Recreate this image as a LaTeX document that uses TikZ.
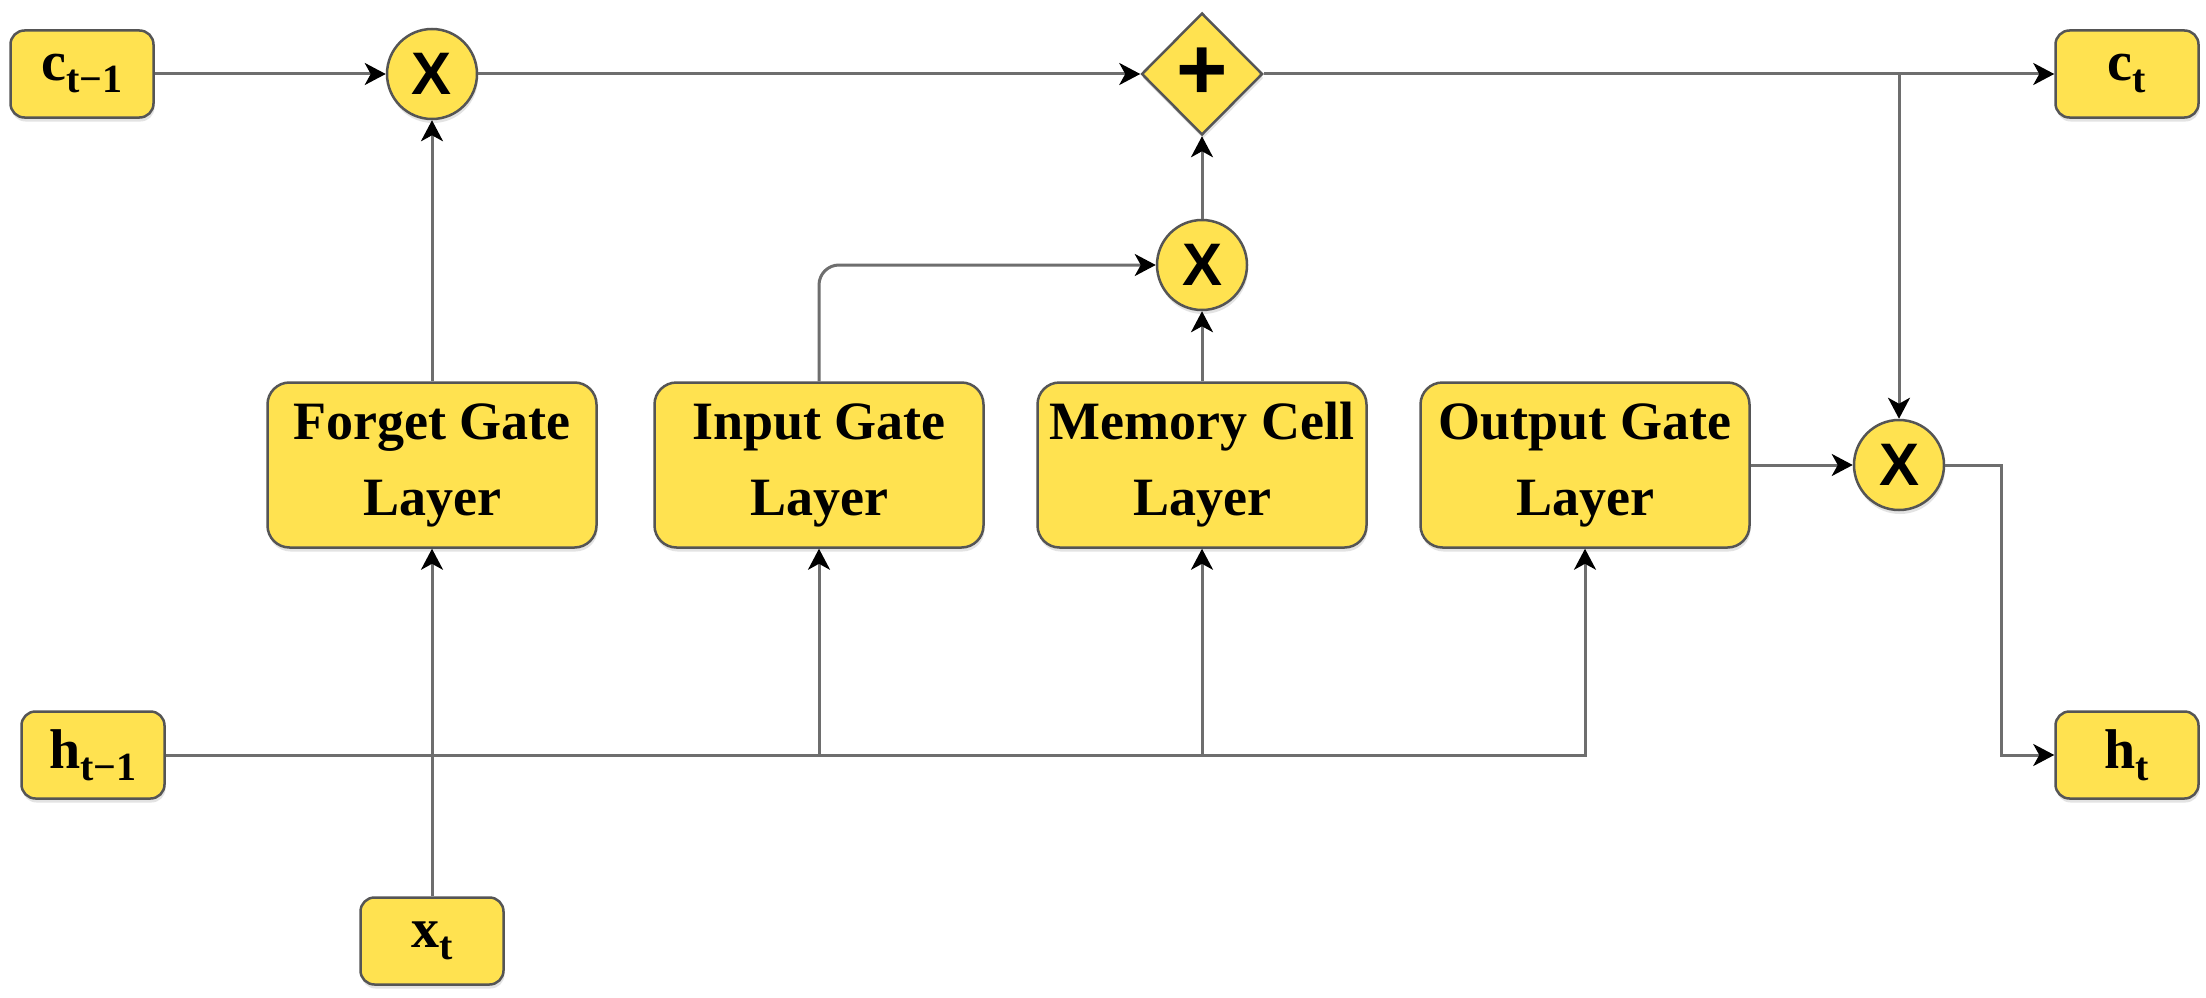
\documentclass[tikz,border=0pt]{standalone}
\usepackage{fontspec}
\setmainfont{Liberation Serif}
\newfontfamily\symfont{Liberation Sans}
\usetikzlibrary{arrows.meta,shapes.geometric,shadows}
\definecolor{boxfill}{RGB}{255,226,80}
\definecolor{boxline}{RGB}{85,85,85}
\definecolor{linegray}{RGB}{110,110,110}
\newcommand{\lbl}[2]{{\fontsize{56}{60}\selectfont\bfseries #1}{\fontsize{40}{44}\selectfont\bfseries\raisebox{-12pt}{#2}}}
\tikzset{
  shade/.style={drop shadow={shadow xshift=1pt,shadow yshift=-4pt,opacity=0.22,fill=gray}},
  iobox/.style={draw=boxline,line width=2.5pt,fill=boxfill,rounded corners=14pt,minimum width=143pt,minimum height=87pt,inner sep=0pt,shade},
  layerbox/.style={draw=boxline,line width=2.5pt,fill=boxfill,rounded corners=22pt,minimum width=329pt,minimum height=165pt,inner sep=0pt,align=center,font=\fontsize{54}{76}\selectfont\bfseries,shade},
  opcirc/.style={circle,draw=boxline,line width=2.5pt,fill=boxfill,minimum size=90pt,inner sep=0pt,font=\symfont\fontsize{60}{60}\selectfont\bfseries,shade},
  opdiam/.style={diamond,shape aspect=1,draw=boxline,line width=2.5pt,fill=boxfill,minimum width=121pt,minimum height=122pt,inner sep=0pt,font=\symfont\fontsize{88}{88}\selectfont\bfseries,shade},
  conn/.style={draw=linegray,line width=3pt,-{Stealth[length=21pt,width=22pt,inset=6pt,color=black]}},
  plain/.style={draw=linegray,line width=3pt}
}
\begin{document}
\begin{tikzpicture}[x=1pt,y=-1pt]
\useasboundingbox[fill=white] (0,0) rectangle (2206,998);
% input / output boxes
\node[iobox] (ctm1) at (82,74) {\lbl{c}{t−1}};
\node[iobox] (ct) at (2127,74) {\lbl{c}{t}};
\node[iobox] (htm1) at (93,755) {\lbl{h}{t−1}};
\node[iobox] (ht) at (2127,755) {\lbl{h}{t}};
\node[iobox] (xt) at (432,941) {\lbl{x}{t}};
% operators
\node[opcirc] (X1) at (432,74) {X};
\node[opdiam] (plus) at (1202,74) {\raisebox{-2pt}{+}};
\node[opcirc] (memX) at (1202,265) {X};
\node[opcirc] (outX) at (1899,465) {X};
% layers
\node[layerbox] (forget) at (432,465) {Forget Gate\\Layer};
\node[layerbox] (input) at (819,465) {Input Gate\\Layer};
\node[layerbox] (memory) at (1202,465) {Memory Cell\\Layer};
\node[layerbox] (output) at (1585,465) {Output Gate\\Layer};
% helper coordinates
\coordinate (br) at (1899,74);
\coordinate (turn) at (2001,465);
\coordinate (j1) at (819,755);
\coordinate (j2) at (1202,755);
% connectors
\draw[conn] (ctm1.east) -- (X1.west);
\draw[conn] (forget.north) -- (X1.south);
\draw[conn] (X1.east) -- (plus.west);
\draw[conn] (plus.east) -- (ct.west);
\draw[conn] (br) -- (outX.north);
\draw[conn] (memX.north) -- (plus.south);
\draw[conn] (memory.north) -- (memX.south);
\draw[conn,rounded corners=20pt] (input.north) |- (memX.west);
\draw[conn] (output.east) -- (outX.west);
\draw[conn] (outX.east) -- (turn) |- (ht.west);
\draw[conn] (htm1.east) -| (output.south);
\draw[conn] (j1) -- (input.south);
\draw[conn] (j2) -- (memory.south);
\draw[conn] (xt.north) -- (forget.south);
\end{tikzpicture}
\end{document}
